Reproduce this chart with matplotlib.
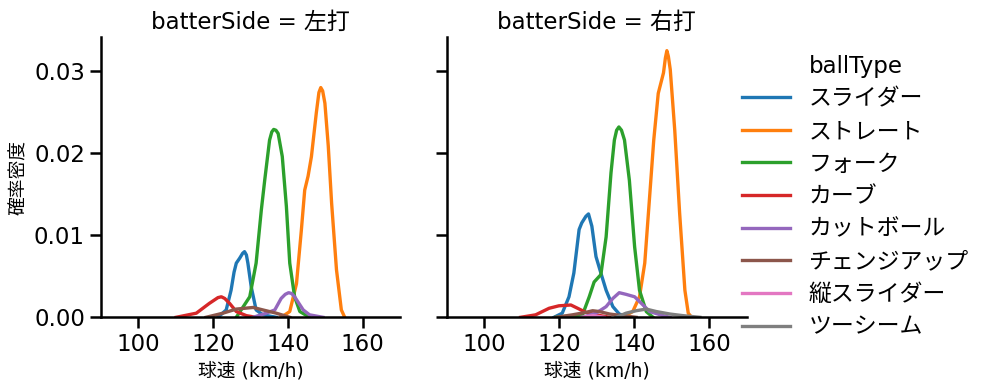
import matplotlib
matplotlib.use("Agg")
import matplotlib.pyplot as plt
from matplotlib.lines import Line2D

plt.rcParams['font.family'] = ['DejaVu Sans', 'Noto Sans CJK JP']

ball_types = ["スライダー", "ストレート", "フォーク", "カーブ", "カットボール",
              "チェンジアップ", "縦スライダー", "ツーシーム"]
colors = ["#1f77b4", "#ff7f0e", "#2ca02c", "#d62728", "#9467bd",
          "#8c564b", "#e377c2", "#7f7f7f"]
sides = ["左打", "右打"]

# density curves (speed km/h, density)
left = {
    "スライダー": ([121.3, 123.5, 124.8, 125.6, 126.2, 127.1, 127.9, 128.4, 128.9, 129.3, 130.2, 131.5, 133.3, 136.9],
                  [0, 0.0009, 0.0033, 0.0055, 0.0066, 0.0072, 0.0078, 0.0080, 0.0076, 0.0066, 0.0037, 0.0009, 0.0003, 0]),
    "ストレート": ([138.2, 140.5, 142.3, 143.6, 144.5, 145.4, 146.3, 147.6, 148.3, 148.8, 149.3, 149.9, 150.8, 151.7, 153.0, 154.3, 155.2],
                  [0, 0.0007, 0.0041, 0.0106, 0.0155, 0.0172, 0.0196, 0.0249, 0.0274, 0.0280, 0.0276, 0.0261, 0.0209, 0.0139, 0.0058, 0.0009, 0]),
    "フォーク": ([126.2, 129.8, 131.5, 132.9, 133.8, 135.1, 135.7, 136.2, 136.8, 137.4, 138.5, 139.6, 140.5, 141.8, 143.2, 145.8],
                [0, 0.0025, 0.0066, 0.0131, 0.0167, 0.0216, 0.0226, 0.0229, 0.0228, 0.0224, 0.0196, 0.0135, 0.0066, 0.0025, 0.0007, 0]),
    "カーブ": ([110.1, 115.5, 119.0, 121.3, 122.2, 123.1, 124.4, 126.2, 128.9, 131.5],
              [0, 0.0005, 0.0017, 0.0024, 0.0025, 0.0023, 0.0017, 0.0007, 0.0002, 0]),
    "カットボール": ([130.7, 134.2, 136.5, 138.2, 139.3, 140.2, 141.0, 141.8, 144.1, 145.8, 149.4],
                   [0, 0.0005, 0.0009, 0.0023, 0.0028, 0.0030, 0.0029, 0.0025, 0.0009, 0.0003, 0]),
    "チェンジアップ": ([118.1, 122.6, 126.2, 130.7, 133.3, 136.9, 140.5],
                    [0, 0.0005, 0.0010, 0.0012, 0.0009, 0.0005, 0]),
}
right = {
    "スライダー": ([118.6, 120.8, 122.6, 123.9, 125.3, 126.0, 127.1, 127.8, 128.7, 129.8, 131.1, 132.5, 134.3, 136.0, 138.7],
                  [0, 0.0005, 0.0025, 0.0054, 0.0107, 0.0115, 0.0123, 0.0126, 0.0111, 0.0074, 0.0054, 0.0033, 0.0013, 0.0004, 0]),
    "ストレート": ([136.9, 139.6, 141.4, 142.8, 144.1, 145.2, 146.4, 147.8, 148.3, 148.7, 149.1, 149.6, 150.8, 152.1, 153.5, 154.4, 155.3],
                  [0, 0.0007, 0.0025, 0.0066, 0.0147, 0.0216, 0.0273, 0.0298, 0.0316, 0.0325, 0.0318, 0.0302, 0.0228, 0.0127, 0.0033, 0.0005, 0]),
    "フォーク": ([119.1, 126.2, 128.0, 129.3, 131.1, 132.5, 133.8, 134.7, 135.3, 135.9, 136.6, 137.4, 138.7, 140.1, 141.4, 143.2, 145.0],
                [0, 0.0003, 0.0025, 0.0043, 0.0052, 0.0098, 0.0176, 0.0216, 0.0228, 0.0232, 0.0228, 0.0216, 0.0167, 0.0086, 0.0033, 0.0007, 0]),
    "カーブ": ([109.7, 113.7, 117.3, 119.9, 123.1, 124.9, 127.1, 129.8, 133.4],
              [0, 0.0003, 0.0011, 0.0014, 0.0015, 0.0011, 0.0006, 0.0003, 0]),
    "カットボール": ([126.2, 129.8, 132.5, 134.3, 136.0, 137.8, 140.1, 141.9, 144.1, 147.7, 149.5],
                   [0, 0.0005, 0.0013, 0.0023, 0.0030, 0.0028, 0.0025, 0.0017, 0.0007, 0.0002, 0]),
    "チェンジアップ": ([119.1, 123.5, 127.1, 128.9, 130.7, 133.4, 136.9, 140.5],
                    [0, 0.0003, 0.0006, 0.0008, 0.0007, 0.0004, 0.0002, 0]),
    "縦スライダー": ([126.0, 129.0, 132.0],
                  [0, 0.0002, 0]),
    "ツーシーム": ([135.2, 137.8, 140.5, 143.2, 145.9, 149.5, 153.0, 157.5],
                 [0, 0.0005, 0.0008, 0.0010, 0.0007, 0.0004, 0.0002, 0]),
}
data = [left, right]

fig = plt.figure(figsize=(9.87, 3.91), dpi=100)
ax1 = fig.add_axes([0.1023, 0.1885, 0.3030, 0.7176])
ax2 = fig.add_axes([0.4526, 0.1885, 0.3040, 0.7176], sharey=ax1)
axes = [ax1, ax2]

for ax, side, d in zip(axes, sides, data):
    for bt, c in zip(ball_types, colors):
        if bt in d:
            xs, ys = d[bt]
            ax.plot(xs, ys, color=c, lw=2.4, solid_joinstyle="round")
    ax.set_xlim(90, 170)
    ax.set_ylim(0, 0.0342)
    ax.set_xticks([100, 120, 140, 160])
    ax.set_yticks([0, 0.01, 0.02, 0.03])
    ax.tick_params(labelsize=16.5, length=8, width=1.8)
    for s in ["top", "right"]:
        ax.spines[s].set_visible(False)
    for s in ["left", "bottom"]:
        ax.spines[s].set_linewidth(1.8)
    ax.set_xlabel("球速 (km/h)", fontsize=13.5)
    ax.set_title("batterSide = " + side, fontsize=16.5)

ax1.yaxis.set_major_formatter(matplotlib.ticker.FormatStrFormatter("%.2f"))
ax1.set_ylabel("確率密度", fontsize=13.5)
plt.setp(ax2.get_yticklabels(), visible=False)

handles = [Line2D([], [], color=c, lw=2.4) for c in colors]
leg = fig.legend(handles, ball_types, title="ballType", loc="upper left",
                 bbox_to_anchor=(0.731, 0.913), frameon=False, fontsize=16.5,
                 title_fontsize=16.5, handlelength=2.1, labelspacing=0.42)

fig.savefig("out.png", dpi=100)
